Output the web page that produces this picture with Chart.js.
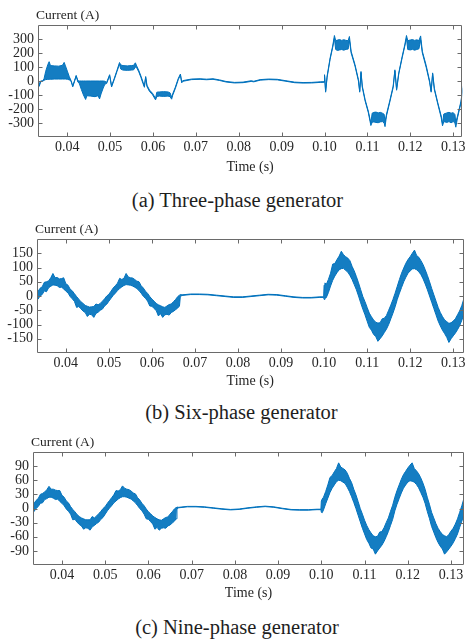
<!DOCTYPE html>
<html>
<head>
<meta charset="utf-8">
<title>Generator phase current</title>
<script src="https://cdn.jsdelivr.net/npm/chart.js@4.4.1/dist/chart.umd.min.js"></script>
<style>
  html, body { margin: 0; padding: 0; background: #ffffff; }
  #wrap { position: relative; width: 467px; height: 639px; overflow: hidden; background: #fff; }
  #wrap canvas { position: absolute; left: 0; }
  .cap {
    position: absolute; transform: translateX(-50%); white-space: nowrap;
    font-family: "Liberation Serif", "Times New Roman", serif;
    font-size: 20.5px; line-height: 24px; color: #1e1e1e;
  }
</style>
</head>
<body>
<div id="wrap">
  <canvas id="chartA"></canvas>
  <div class="cap" style="left:237.5px; top:188px;">(a) Three-phase generator</div>
  <canvas id="chartB"></canvas>
  <div class="cap" style="left:241.5px; top:400px;">(b) Six-phase generator</div>
  <canvas id="chartC"></canvas>
  <div class="cap" style="left:237px; top:615px;">(c) Nine-phase generator</div>
</div>
<script>
// ---- Phase current traces: time in ms, upper / lower edge of the switching band in A ----

// (a) three-phase generator
const timeA = [33.2, 33.5, 33.8, 34.3, 34.6, 35.0, 35.5, 35.8, 36.1, 37.0, 38.0, 38.9, 39.3, 39.6, 40.1, 40.5, 40.9,
  41.3, 41.7, 42.1, 42.5, 42.8, 43.3, 43.8, 44.3, 44.6, 45.5, 46.5, 47.2, 47.55, 47.9, 48.4, 48.8, 49.2, 49.9, 50.35,
  51.0, 51.6, 52.2, 52.5, 53.0, 54.0, 55.0, 55.5, 55.9, 56.2, 56.7, 57.2, 57.7, 58.0, 58.3, 58.6, 59.2, 59.9, 60.6,
  60.9, 61.5, 62.5, 63.5, 64.0, 64.35, 64.6, 65.2, 65.9, 66.4, 66.7, 67.0, 69.0, 71.0, 72.5, 74.0, 75.5, 77.0, 79.0,
  81.0, 82.9, 83.5, 85.0, 87.0, 89.0, 91.0, 93.0, 95.0, 97.0, 99.0, 99.9, 100.0, 100.25, 100.6, 101.3, 101.9, 102.3,
  102.6, 103.0, 103.5, 104.0, 104.5, 105.0, 105.5, 105.8, 106.2, 107.1, 107.9, 108.2, 108.5, 108.8, 109.45, 110.2,
  110.8, 111.1, 111.5, 112.0, 112.5, 113.0, 113.5, 113.9, 114.1, 114.45, 115.2, 116.0, 116.4, 116.8, 117.3, 118.1,
  118.7, 119.1, 119.4, 120.0, 120.5, 121.0, 121.5, 122.0, 122.4, 122.8, 123.7, 124.5, 124.85, 125.2, 125.6, 126.4,
  127.2, 127.5, 127.8, 128.5, 129.0, 129.5, 130.0, 130.4, 130.6, 131.0, 131.8, 132.3];
const upperA = [25, -30, 0, 2, 15, 70, 118, 138, 110, 108, 106, 112, 133, 108, 65, 30, 4,
  -34, 2, 40, 2, 0, 0, 0, 0, 0, 0, 0, 0, 0, 0, 0, -2, -10, 45, -34,
  20, 75, 132, 115, 110, 108, 110, 112, 130, 108, 75, 35, -10, -36, 32, -30, -65, -88, -124,
  -80, -78, -76, -78, -85, -116, -92, -45, 18, 50, -6, 3, 14, 16, 13, 16, 8, -3, -10,
  -8, 2, -2, 10, 14, 12, 2, -8, -11, -10, -6, -5, 45, -72, 35, 165, 250, 325,
  288, 292, 296, 290, 295, 290, 288, 318, 212, 117, 10, -72, 68, -36, -132, -215,
  -300, -230, -224, -222, -228, -224, -230, -238, -292, -236, -142, -36, 80, -56, 58, 176,
  258, 325, 288, 293, 296, 290, 294, 289, 322, 212, 110, 0, -72, 58, -52, -155,
  -250, -306, -236, -228, -224, -230, -226, -240, -296, -250, -145, -38];
const lowerA = [18, -38, -6, -2, 5, 10, 12, 12, 12, 14, 14, 14, 14, 14, 12, 8, 0,
  -42, -5, 34, -8, -15, -60, -100, -132, -105, -108, -112, -105, -128, -92, -50, -22, -18, 38, -43,
  12, 67, 120, 85, 78, 76, 78, 80, 100, 95, 65, 25, -20, -45, 25, -40, -75, -98, -135,
  -110, -108, -110, -108, -112, -130, -102, -55, 10, 42, -13, -2, 10, 12, 9, 12, 4, -7, -14,
  -12, -3, -6, 6, 10, 8, -2, -12, -15, -14, -10, -9, 38, -80, 26, 155, 240, 305,
  225, 218, 222, 225, 220, 226, 228, 292, 200, 107, 0, -80, 60, -45, -142, -225,
  -318, -295, -292, -296, -298, -292, -290, -300, -326, -248, -152, -46, 72, -66, 50, 166,
  248, 305, 225, 222, 226, 220, 225, 230, 292, 200, 96, -10, -80, 50, -62, -165,
  -262, -320, -290, -296, -290, -298, -290, -300, -330, -262, -157, -50];

// (b) six-phase and (c) nine-phase generators share one time base
const timeBC = [33.3, 33.5, 34.0, 34.5, 35.0, 35.5, 36.0, 36.5, 37.0, 37.5, 38.0, 38.5, 39.0, 39.5, 40.0, 40.5,
  41.0, 41.5, 42.0, 42.5, 43.0, 43.5, 44.0, 44.5, 45.0, 45.5, 46.0, 46.5, 47.0, 47.5, 48.0, 48.5, 49.0, 49.5,
  50.0, 50.5, 51.0, 51.5, 52.0, 52.5, 53.0, 53.5, 54.0, 54.5, 55.0, 55.5, 56.0, 56.5, 57.0, 57.5, 58.0, 58.5,
  59.0, 59.5, 60.0, 60.5, 61.0, 61.5, 62.0, 62.5, 63.0, 63.5, 64.0, 64.5, 65.0, 65.5, 66.0, 66.4, 66.6,
  67, 69, 71, 73, 75, 77, 79, 81, 83, 85, 87, 89, 91, 93, 95, 97, 99, 99.9,
  100.0, 100.2, 100.5, 101.0, 101.5, 102.0, 102.5, 103.0, 103.5, 104.0, 104.5, 105.0, 105.5, 106.0, 106.5,
  107.0, 107.5, 108.0, 108.5, 109.0, 109.5, 110.0, 110.5, 111.0, 111.5, 112.0, 112.5, 113.0, 113.5, 114.0,
  114.5, 115.0, 115.5, 116.0, 116.5, 117.0, 117.5, 118.0, 118.5, 119.0, 119.5, 120.0, 120.5, 121.0, 121.5,
  122.0, 122.5, 123.0, 123.5, 124.0, 124.5, 125.0, 125.5, 126.0, 126.5, 127.0, 127.5, 128.0, 128.5, 129.0,
  129.5, 130.0, 130.5, 131.0, 131.5, 132.0, 132.5, 133.0];

const upperB = [20, 15, 27, 32, 48, 50, 53, 64, 79, 64, 65, 60, 61, 64, 43, 38,
  24, 18, 8, -2, -11, -20, -26, -33, -36, -39, -38, -37, -28, -31, -26, -18, -10, 0,
  6, 17, 28, 36, 45, 62, 58, 62, 79, 67, 64, 63, 58, 52, 50, 36, 28, 17,
  9, -2, -11, -18, -26, -31, -34, -38, -40, -35, -30, -28, -20, -12, -2, 3, 5,
  4, 7, 7, 6, 3, 0, -3, -3, 0, 3, 6, 5, 1, -3, -5, -5, -3, -3,
  38, 46, 40, 58, 80, 112, 114, 128, 140, 157, 145, 138, 133, 124, 104,
  88, 68, 46, 22, -2, -20, -40, -60, -73, -84, -92, -95, -94, -80, -78,
  -68, -50, -32, -12, 10, 34, 58, 80, 98, 115, 128, 138, 150, 161, 142,
  136, 124, 110, 92, 72, 50, 26, 4, -18, -40, -58, -72, -84, -90, -96,
  -94, -88, -80, -66, -52, -33, -8, 12];
const lowerB = [-14, -12, 0, 5, 18, 15, 29, 34, 39, 38, 36, 30, 31, 25, 17, 11,
  -2, -10, -19, -40, -37, -45, -53, -58, -72, -64, -66, -75, -61, -57, -50, -46, -35, -29,
  -18, -8, 2, 10, 19, 26, 32, 37, 40, 39, 38, 35, 31, 26, 19, 10, -1, -8,
  -18, -35, -36, -44, -51, -70, -62, -75, -66, -64, -67, -58, -54, -48, -42, -35, -2,
  2, 5, 5, 4, 1, -2, -5, -5, -2, 1, 4, 3, -1, -5, -7, -7, -5, -5,
  -12, -8, -6, 12, 35, 55, 70, 82, 92, 96, 97, 90, 84, 72, 58,
  40, 22, 0, -24, -46, -66, -88, -110, -120, -135, -142, -159, -150, -140, -128,
  -116, -100, -80, -60, -38, -12, 10, 30, 50, 66, 80, 88, 95, 96, 92,
  85, 75, 60, 42, 22, 0, -22, -44, -66, -88, -105, -120, -132, -145, -163,
  -150, -140, -130, -118, -104, -85, -62, -40];

const upperC = [12, 10, 17, 21, 30, 32, 35, 40, 47, 41, 41, 39, 38, 38, 28, 24,
  16, 12, 4, -2, -7, -13, -17, -20, -22, -24, -24, -24, -17, -20, -16, -11, -6, 0,
  4, 11, 17, 23, 29, 38, 37, 40, 48, 43, 41, 40, 37, 33, 31, 23, 18, 11,
  6, -1, -7, -11, -16, -19, -22, -24, -25, -22, -19, -18, -12, -7, -1, 2, 3,
  2.5, 4.5, 4.5, 3.5, 1.5, -0.5, -2, -1, 1.5, 3.5, 5, 3.5, 0.5, -2, -2.5, -2.5, -1.5, -1.5,
  16, 20, 24, 36, 50, 66, 70, 78, 85, 97, 88, 85, 82, 75, 64,
  55, 41, 29, 15, 0, -12, -25, -36, -45, -52, -58, -60, -59, -50, -49,
  -41, -30, -20, -6, 7, 24, 38, 50, 62, 72, 79, 86, 92, 97, 85,
  80, 74, 65, 54, 41, 24, 9, -8, -20, -32, -42, -49, -55, -58, -60,
  -55, -48, -42, -33, -22, -8, 6, 22];
const lowerC = [-8, -7, 0, 4, 11, 12, 19, 21, 24, 24, 22, 19, 20, 15, 11, 6,
  -1, -6, -12, -24, -23, -29, -34, -37, -44, -41, -42, -46, -39, -36, -32, -29, -23, -19,
  -12, -5, 1, 6, 12, 16, 20, 23, 25, 25, 24, 22, 20, 16, 12, 6, 0, -5,
  -12, -22, -23, -28, -33, -44, -40, -46, -42, -41, -42, -37, -35, -31, -27, -22, -1,
  1.5, 3.5, 3.5, 2.5, 0.5, -1.5, -3, -2, 0.5, 2.5, 4, 2.5, -0.5, -3, -3.5, -3.5, -2.5, -2.5,
  -8, -9, -3, 10, 22, 34, 43, 50, 57, 60, 59, 56, 53, 45, 36,
  25, 13, 0, -14, -28, -42, -54, -66, -74, -84, -86, -97, -90, -84, -78,
  -70, -60, -49, -36, -23, -5, 9, 21, 33, 43, 50, 56, 59, 58, 56,
  51, 44, 34, 24, 11, -6, -21, -38, -50, -62, -72, -80, -86, -97, -92,
  -86, -80, -73, -64, -54, -40, -27, -12];

// Axis tick values
const xTickValues = [0.04, 0.05, 0.06, 0.07, 0.08, 0.09, 0.10, 0.11, 0.12, 0.13];
const yTicksA = [-300, -200, -100, 0, 100, 200, 300];
const yTicksB = [-150, -100, -50, 0, 50, 100, 150];
const yTicksC = [-90, -60, -30, 0, 30, 60, 90];

// ---- drawing ----
const BLUE = '#0072BD';
const SERIF = '"Liberation Serif", "Times New Roman", serif';
const TEXT = '#262626';

// Box frame with inward tick marks on all four sides, plus the y-quantity label
const framePlugin = {
  id: 'frame',
  afterDatasetsDraw(chart, args, opts) {
    const { ctx, chartArea: a, scales: { x, y } } = chart;
    const L = Math.round(a.left) + 0.5, R = Math.round(a.right) - 0.5;
    const T = Math.round(a.top) + 0.5, B = Math.round(a.bottom) - 0.5;
    const tl = 4;
    ctx.save();
    ctx.strokeStyle = '#6a6a6a';
    ctx.lineWidth = 1;
    ctx.beginPath();
    ctx.rect(L, T, R - L, B - T);
    x.ticks.forEach(t => {
      const px = Math.round(x.getPixelForValue(t.value)) + 0.5;
      ctx.moveTo(px, B); ctx.lineTo(px, B - tl);
      ctx.moveTo(px, T); ctx.lineTo(px, T + tl);
    });
    y.ticks.forEach(t => {
      const py = Math.round(y.getPixelForValue(t.value)) + 0.5;
      ctx.moveTo(L, py); ctx.lineTo(L + tl, py);
      ctx.moveTo(R, py); ctx.lineTo(R - tl, py);
    });
    ctx.stroke();
    ctx.fillStyle = TEXT;
    ctx.font = '13.5px ' + SERIF;
    ctx.textAlign = 'left';
    ctx.textBaseline = 'middle';
    ctx.fillText(opts.label, a.left - 2, a.top - 10);
    ctx.restore();
  }
};

function points(times, values) {
  return times.map((t, i) => ({ x: t / 1000, y: values[i] }));
}

function makePanel(id, p) {
  const canvas = document.getElementById(id);
  const H = Math.round(p.titleY - p.canvasTop + 10.4);
  canvas.width = 467; canvas.height = H;
  canvas.style.top = p.canvasTop + 'px';
  canvas.style.width = '467px'; canvas.style.height = H + 'px';
  const plotBottom = p.bottom - p.canvasTop;
  new Chart(canvas, {
    type: 'line',
    data: {
      datasets: [
        { data: points(p.time, p.upper), borderColor: BLUE, backgroundColor: 'rgba(0,114,189,0.92)',
          borderWidth: 1, pointRadius: 0, tension: 0, fill: '+1' },
        { data: points(p.time, p.lower), borderColor: BLUE, borderWidth: 1,
          pointRadius: 0, tension: 0, fill: false }
      ]
    },
    options: {
      responsive: false,
      animation: false,
      events: [],
      layout: { padding: { top: p.top - p.canvasTop, right: 467 - p.right, left: 0, bottom: 0 } },
      plugins: { legend: { display: false }, tooltip: { enabled: false }, frame: { label: 'Current (A)' } },
      scales: {
        x: {
          type: 'linear', min: p.xMin, max: p.xMax,
          afterBuildTicks: s => { s.ticks = xTickValues.map(v => ({ value: v })); },
          afterFit: s => { s.height = H - plotBottom; },
          grid: { display: false, drawTicks: false },
          border: { display: false },
          ticks: { callback: v => v.toFixed(2), font: { family: SERIF, size: 14 }, color: TEXT,
                   padding: 1.5, maxRotation: 0, autoSkip: false },
          title: { display: true, text: 'Time (s)', font: { family: SERIF, size: 14 }, color: TEXT,
                   padding: { top: 0, bottom: 2 } }
        },
        y: {
          type: 'linear', min: p.yMin, max: p.yMax,
          afterBuildTicks: s => { s.ticks = p.yTicks.map(v => ({ value: v })); },
          afterFit: s => { s.width = p.left; },
          grid: { display: false, drawTicks: false },
          border: { display: false },
          ticks: { font: { family: SERIF, size: 14 }, color: TEXT, padding: 4, autoSkip: false }
        }
      }
    },
    plugins: [framePlugin]
  });
}

makePanel('chartA', { canvasTop: 0, top: 25, bottom: 137, left: 38, right: 466, titleY: 168,
  xMin: 0.0332, xMax: 0.1321, yMin: -400, yMax: 400, yTicks: yTicksA,
  time: timeA, upper: upperA, lower: lowerA });
makePanel('chartB', { canvasTop: 205, top: 239, bottom: 353, left: 37, right: 466, titleY: 382,
  xMin: 0.0333, xMax: 0.1324, yMin: -200, yMax: 200, yTicks: yTicksB,
  time: timeBC, upper: upperB, lower: lowerB });
makePanel('chartC', { canvasTop: 418, top: 452, bottom: 565, left: 33, right: 464, titleY: 594,
  xMin: 0.0333, xMax: 0.1330, yMin: -120, yMax: 120, yTicks: yTicksC,
  time: timeBC, upper: upperC, lower: lowerC });
</script>
</body>
</html>
